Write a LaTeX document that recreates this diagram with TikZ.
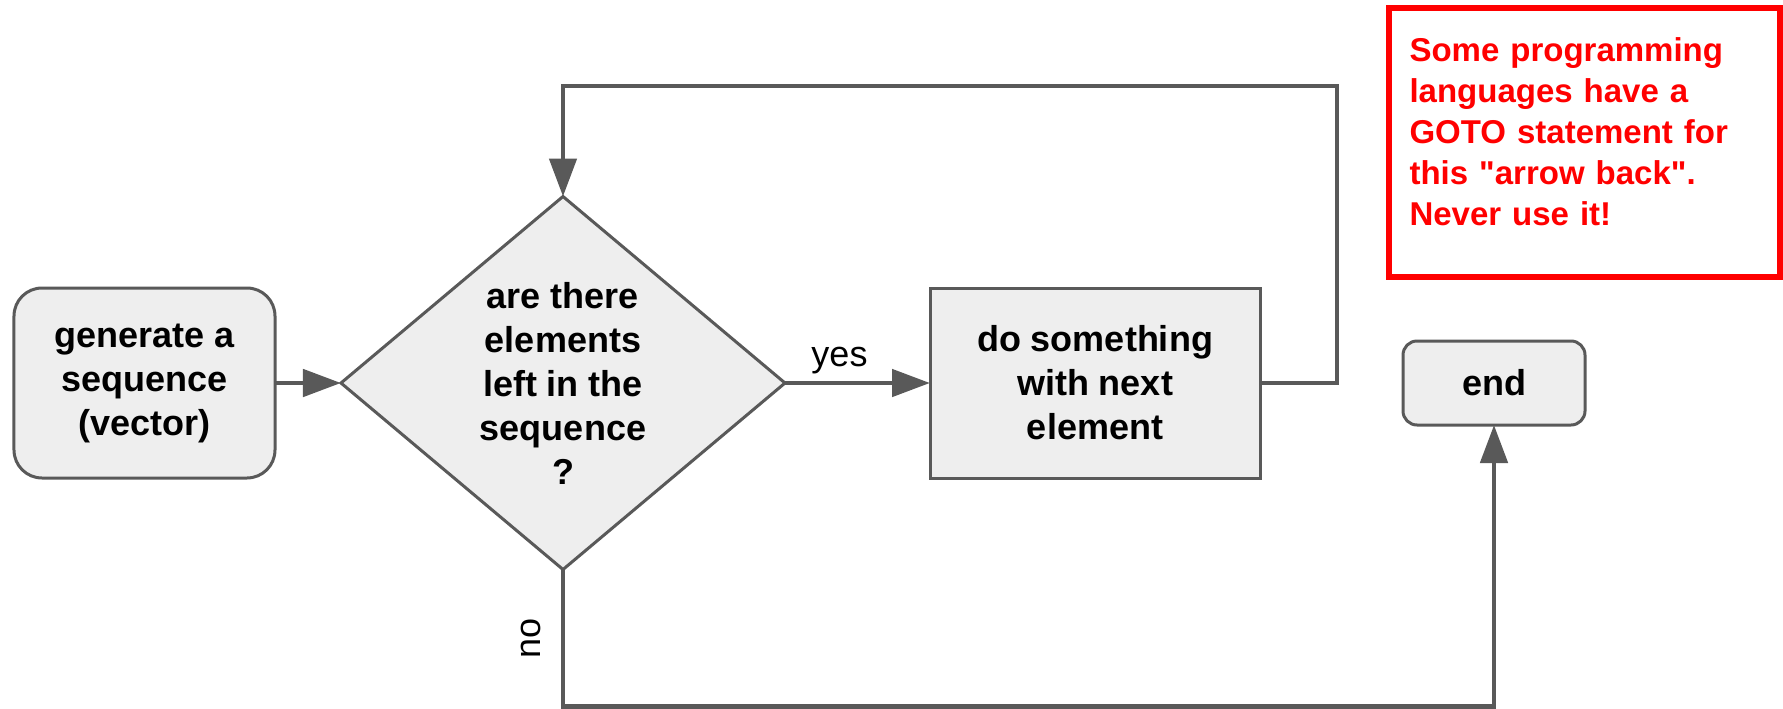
\documentclass[tikz,border=0pt]{standalone}
\usepackage{fontspec}
\setmainfont{Liberation Sans}
\usetikzlibrary{arrows.meta,calc,positioning,shapes.geometric}
\definecolor{linegray}{HTML}{595959}
\definecolor{boxfill}{HTML}{EEEEEE}
\definecolor{notered}{HTML}{FF0000}
\tikzstyle{element}=[
  draw=linegray,
  fill=boxfill,
  font={\fontsize{18pt}{22pt}\selectfont\bfseries},
  align=center,
  inner sep=0pt,
  outer sep=0pt,
  line width=1.5pt,
]
\tikzstyle{terminal}=[
  element,
  rectangle,
  rounded corners=14pt,
]
\tikzstyle{process}=[
  element,
  rectangle,
  minimum width=165pt,
  minimum height=95pt,
]
\tikzstyle{decision}=[
  element,
  diamond,
  aspect=1.19,
  minimum width=222pt,
  minimum height=186.5pt,
]
\tikzstyle{note}=[
  draw=notered,
  line width=3pt,
  text=notered,
  font={\fontsize{16.5pt}{20.5pt}\selectfont\bfseries},
  align=left,
  text width=175pt,
  text depth=93pt,
  inner sep=0pt,
  minimum width=195.5pt,
  minimum height=134.5pt,
]
\tikzstyle{arrow}=[
  color=linegray,
  draw=linegray,
  line width=2.4pt,
]
\tikzstyle{label}=[
  font={\fontsize{18pt}{22pt}\selectfont},
  text=black,
]
\tikzset{
  >={Triangle[length=19pt,width=13.5pt]},
}
\begin{document}
\begin{tikzpicture}
  \useasboundingbox (-72.25pt,-162.5pt) rectangle (819.25pt,191.5pt);
  \node (generate) [terminal, minimum width=130.5pt, minimum height=95pt] {generate a\\sequence\\(vector)};
  \node (test) [decision, node distance=209.25pt, right of=generate] {are there\\elements\\left in the\\sequence\\?};
  \node (dosth) [process, node distance=266pt, right of=test] {do something\\with next\\element};
  \node (stop) [terminal, rounded corners=7pt, minimum width=91pt, minimum height=42pt, node distance=199.5pt, right of=dosth] {end};
  \node (warning) [note, node distance=120.25pt, above of=stop, xshift=45.25pt] {Some programming\\languages have a\\GOTO statement for\\this \textquotedbl arrow back\textquotedbl.\\Never use it!};
  \draw [->, arrow] (generate) -- (test);
  \draw [->, arrow] (test) -- node [label, above, xshift=-9pt] {yes} (dosth);
  \draw [->, arrow] (dosth.east) -| ($(dosth.east)+(38.5pt,148.5pt)$) -| (test.north);
  \draw [->, arrow] (test.south) -- node [label, anchor=south, rotate=90, inner sep=10pt] {no} ++(0,-68.5pt) -| (stop.south);
\end{tikzpicture}
\end{document}
